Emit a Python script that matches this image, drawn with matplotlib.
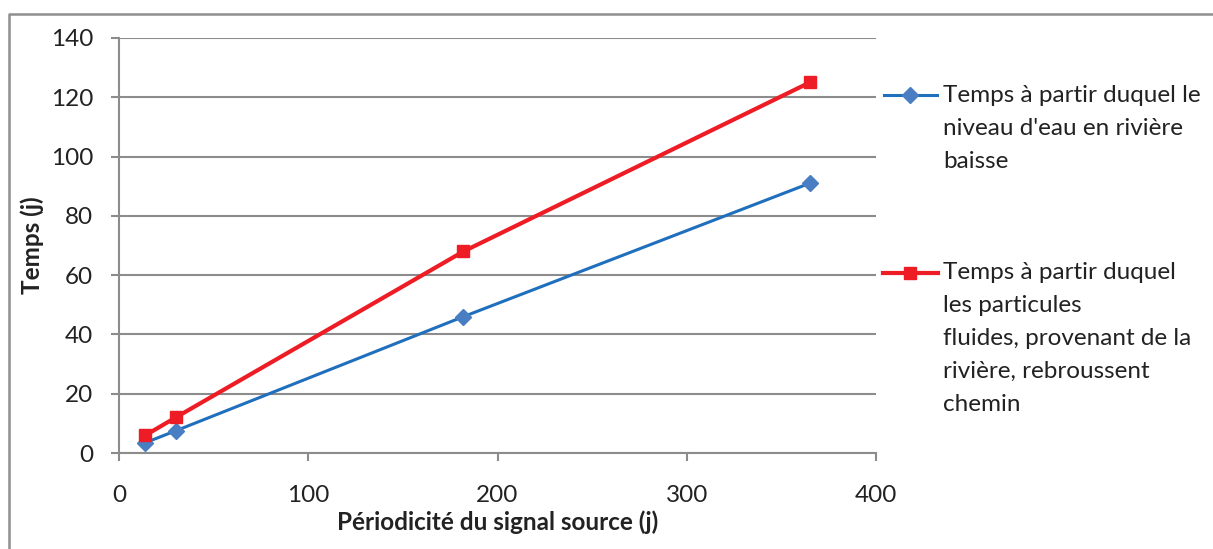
import matplotlib
matplotlib.use("Agg")
import matplotlib.pyplot as plt

plt.rcParams['font.family'] = ['Lato', 'DejaVu Sans']

# data
periode = [14, 30, 182, 365]
t_niveau = [3.5, 7.5, 46, 91]
t_particules = [6, 12, 68, 125]

lab_niveau = ["Temps à partir duquel le", "niveau d'eau en rivière", "baisse"]
lab_particules = ["Temps à partir duquel", "les particules",
                  "fluides, provenant de la", "rivière, rebroussent", "chemin"]

x_ticks = [0, 100, 200, 300, 400]
y_ticks = [0, 20, 40, 60, 80, 100, 120, 140]

W, H = 1213, 549
fig = plt.figure(figsize=(W / 100, H / 100), dpi=100)

blue = '#1f6fbd'
blue_m = '#4a7ec2'
red = '#ee1c24'
grid_c = '#8c8c8c'
txt_c = '#222222'
fs = 17.5

ax = fig.add_axes([119 / W, (H - 453) / H, (876 - 119) / W, (453 - 38) / H])
ax.plot(periode, t_niveau, color=blue, lw=2.2, marker='D', ms=8,
        mfc=blue_m, mec=blue_m, zorder=3, clip_on=False)
ax.plot(periode, t_particules, color=red, lw=3, marker='s', ms=9,
        mfc=red, mec=red, zorder=4, clip_on=False)

ax.set_xlim(0, 400)
ax.set_ylim(0, 140)
ax.set_xticks(x_ticks)
ax.set_yticks(y_ticks)
ax.yaxis.grid(True, color=grid_c, lw=1.5)
ax.set_axisbelow(True)
for s in ['top', 'right']:
    ax.spines[s].set_visible(False)
for s in ['left', 'bottom']:
    ax.spines[s].set_color(grid_c)
    ax.spines[s].set_linewidth(1.5)
ax.tick_params(axis='both', colors=grid_c, length=6, width=1.5,
               labelsize=fs, labelcolor=txt_c)
ax.tick_params(axis='x', pad=17)
ax.tick_params(axis='y', pad=12.5)
ax.set_xlabel('Périodicité du signal source (j)', fontsize=fs, fontweight='bold',
              color=txt_c)
ax.set_ylabel('Temps (j)', fontsize=fs, fontweight='bold', color=txt_c)
ax.xaxis.set_label_coords(0.5, (453 - 510) / 415)
ax.yaxis.set_label_coords((44 - 119) / 757, 0.5)

# overlay in pixel coords for the legend and the frame
ov = fig.add_axes([0, 0, 1, 1], facecolor='none')
ov.set_xlim(0, W)
ov.set_ylim(H, 0)
ov.axis('off')
ov.plot([8.5, 8.5, W + 5], [H + 5, 14, 14], color='#8f8f8f', lw=1.8,
        solid_capstyle='butt')

ov.plot([884, 937], [95, 95], color=blue, lw=2.2)
ov.plot([910], [95], marker='D', ms=8, color=blue_m)
for i, line in enumerate(lab_niveau):
    ov.text(943, 101.7 + 33 * i, line, fontsize=fs, color=txt_c,
            va='baseline', ha='left')

ov.plot([883, 938], [272.5, 272.5], color=red, lw=3)
ov.plot([910], [272.5], marker='s', ms=9, color=red)
for i, line in enumerate(lab_particules):
    ov.text(943, 279 + 33 * i, line, fontsize=fs, color=txt_c,
            va='baseline', ha='left')

fig.savefig('out.png', dpi=100)
